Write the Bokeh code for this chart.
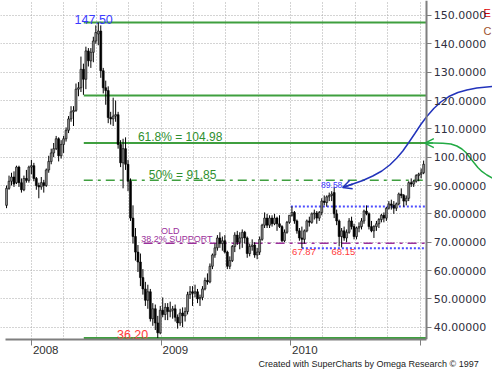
import pandas as pd
from bokeh.plotting import figure
from bokeh.models import (Range1d, LinearAxis, FixedTicker, Title, Arrow, OpenHead, Grid)
from bokeh.core.properties import value
from bokeh.embed import file_html
from bokeh.resources import INLINE

# ---------------- data (weekly bars, week starting Monday) ----------------
first_week = "2007-10-22"
open_ = [83.0, 89.0, 91.5, 93.0, 91.0, 96.5, 91.0, 88.5, 92.5, 91.8,
         96.5, 97.0, 92.5, 90.0, 89.5, 91.0, 90.0, 95.5, 98.5, 101.5,
         103.0, 106.5, 100.5, 104.5, 106.5, 109.5, 113.5, 116.0, 116.5, 124.0,
         124.5, 131.0, 127.5, 137.5, 134.0, 137.0, 141.0, 143.5, 144.5, 130.5,
         124.5, 123.5, 114.0, 113.5, 114.5, 115.0, 104.5, 98.0, 103.0, 97.5,
         91.5, 78.5, 72.0, 66.5, 63.0, 57.5, 53.5, 49.5, 52.5, 43.0,
         46.5, 41.5, 38.0, 46.0, 44.5, 47.0, 45.5, 46.0, 46.5, 43.5,
         41.5, 45.0, 44.0, 45.5, 51.5, 52.5, 52.0, 52.5, 50.0, 50.5,
         53.5, 56.5, 56.0, 61.5, 65.5, 68.0, 71.5, 69.5, 70.5, 66.5,
         61.5, 63.5, 68.5, 72.5, 70.0, 71.5, 73.5, 71.5, 66.0, 68.5,
         69.0, 65.5, 66.5, 71.0, 76.0, 78.5, 76.0, 78.5, 76.5, 78.5,
         76.5, 75.5, 70.5, 73.5, 77.0, 79.5, 80.5, 77.5, 74.0, 71.5,
         71.0, 74.0, 77.5, 77.0, 80.0, 80.3, 78.5, 80.5, 84.5, 84.0,
         86.0, 86.5, 87.5, 80.0, 77.5, 72.0, 74.0, 71.5, 73.5, 77.5,
         75.5, 72.0, 75.0, 75.5, 77.5, 81.0, 80.0, 75.5, 74.0, 75.5,
         76.5, 78.0, 79.5, 78.5, 82.0, 83.5, 83.0, 82.0, 83.5, 87.0,
         86.5, 84.5, 85.5, 91.0, 90.5, 91.5, 93.5, 94.0, 94.5]
high = [90.0, 93.5, 94.5, 95.0, 97.0, 97.0, 92.5, 93.5, 95.5, 97.0,
        99.0, 98.0, 93.0, 91.0, 93.0, 92.0, 96.0, 100.5, 103.0, 105.0,
        107.5, 107.0, 106.0, 107.5, 110.5, 114.5, 118.0, 118.0, 126.0, 126.5,
        135.5, 133.0, 139.0, 138.5, 138.5, 142.5, 146.5, 147.5, 146.5, 131.5,
        127.0, 125.0, 116.0, 121.0, 120.0, 116.0, 106.0, 106.5, 107.0, 99.0,
        92.5, 83.0, 75.0, 69.0, 66.0, 60.5, 56.0, 55.0, 53.5, 48.5,
        48.0, 44.0, 47.5, 50.5, 48.5, 48.5, 49.0, 47.5, 48.0, 44.5,
        46.5, 47.0, 47.0, 52.5, 54.5, 54.5, 55.0, 53.5, 51.5, 54.5,
        57.5, 59.0, 62.5, 66.0, 69.5, 72.5, 73.5, 72.0, 72.5, 67.0,
        65.0, 69.0, 73.5, 74.0, 73.5, 74.5, 74.0, 72.0, 69.5, 71.0,
        70.0, 68.0, 72.0, 76.5, 80.5, 80.0, 79.5, 79.5, 80.0, 79.0,
        79.5, 76.0, 74.5, 77.5, 79.5, 82.6, 81.0, 78.0, 75.0, 75.5,
        74.5, 78.0, 79.0, 80.5, 81.5, 81.0, 81.0, 85.5, 86.5, 86.5,
        87.5, 88.0, 89.58, 81.5, 78.0, 75.0, 75.5, 74.5, 78.5, 79.0,
        76.5, 75.5, 77.0, 78.5, 81.5, 83.0, 80.5, 77.5, 76.0, 77.5,
        78.5, 80.0, 80.5, 82.5, 84.5, 85.0, 84.5, 84.0, 87.5, 89.0,
        87.0, 86.5, 91.5, 92.5, 92.0, 94.0, 94.5, 96.0, 98.8]
low = [82.0, 88.5, 90.0, 89.5, 90.5, 89.5, 87.5, 88.0, 91.0, 91.0,
       94.0, 91.5, 88.5, 85.5, 88.5, 87.5, 89.5, 94.5, 97.5, 100.0,
       102.5, 98.5, 99.5, 101.5, 105.5, 108.5, 112.5, 111.0, 116.0, 121.5,
       123.0, 122.0, 124.0, 132.0, 131.5, 133.5, 140.0, 139.5, 128.0, 122.5,
       118.5, 112.0, 111.5, 111.0, 112.5, 103.0, 96.5, 89.0, 95.5, 88.0,
       77.5, 69.5, 63.5, 59.5, 54.5, 51.5, 47.5, 46.5, 42.0, 40.5,
       39.0, 36.2, 37.5, 43.5, 42.5, 42.5, 43.5, 43.0, 42.0, 39.5,
       40.5, 40.0, 42.0, 44.5, 50.0, 47.5, 50.5, 48.5, 47.5, 49.5,
       53.0, 55.0, 55.5, 60.5, 64.5, 67.0, 68.0, 67.0, 66.0, 60.5,
       60.5, 63.0, 66.5, 69.0, 67.5, 68.0, 69.5, 64.5, 65.0, 67.0,
       64.5, 64.0, 65.5, 70.5, 75.0, 75.0, 75.0, 75.5, 76.0, 74.0,
       75.0, 70.0, 70.0, 73.0, 76.5, 79.0, 76.5, 73.0, 70.5, 67.87,
       69.5, 73.5, 75.5, 76.5, 78.0, 76.5, 77.5, 79.5, 83.0, 82.5,
       84.5, 84.5, 78.5, 76.0, 68.5, 68.15, 70.5, 70.0, 73.0, 74.5,
       71.0, 71.0, 73.5, 74.5, 76.5, 79.5, 74.5, 73.5, 71.5, 74.0,
       75.0, 77.0, 77.0, 77.5, 81.5, 81.5, 80.0, 81.0, 83.0, 85.5,
       82.5, 83.0, 84.5, 89.5, 89.5, 91.0, 91.5, 92.5, 94.0]
close = [89.0, 91.5, 93.0, 90.5, 96.5, 91.0, 88.5, 92.5, 91.8, 96.5,
         97.0, 92.5, 90.0, 89.5, 91.0, 90.0, 95.5, 98.5, 101.5, 103.0,
         106.5, 100.5, 104.5, 106.5, 109.5, 113.5, 116.0, 116.5, 124.0, 124.5,
         131.0, 127.5, 137.5, 134.0, 137.0, 141.0, 144.0, 144.5, 130.5, 124.5,
         123.5, 114.0, 113.5, 114.5, 115.0, 104.5, 98.0, 103.0, 97.5, 91.5,
         78.5, 72.0, 66.5, 63.0, 57.5, 53.5, 49.5, 52.5, 43.0, 46.5,
         41.5, 38.0, 46.0, 44.5, 47.0, 45.5, 46.0, 46.5, 43.5, 41.5,
         45.0, 44.0, 45.5, 51.5, 52.5, 52.0, 52.5, 50.0, 50.5, 53.5,
         56.5, 56.0, 61.5, 65.5, 68.0, 71.5, 69.5, 70.5, 66.5, 61.5,
         63.5, 68.5, 72.5, 70.0, 71.5, 73.5, 71.5, 66.0, 68.5, 69.0,
         65.5, 66.5, 71.0, 76.0, 78.5, 76.0, 78.5, 76.5, 78.5, 76.5,
         75.5, 70.5, 73.5, 77.0, 79.5, 80.5, 77.5, 74.0, 71.5, 71.0,
         74.0, 77.5, 77.0, 80.0, 80.3, 78.5, 80.5, 84.5, 84.0, 86.0,
         86.5, 87.0, 80.0, 77.5, 72.0, 74.0, 71.5, 73.5, 77.5, 75.5,
         72.0, 75.0, 75.5, 77.5, 81.0, 80.0, 75.5, 74.0, 75.5, 76.5,
         78.0, 79.5, 78.5, 82.0, 83.5, 83.0, 82.0, 83.5, 87.0, 86.5,
         84.5, 85.5, 91.0, 90.5, 91.5, 93.5, 94.0, 94.5, 97.5]

year_ticks = [2008, 2009, 2010, 2011]
year_labels = ["2008", "2009", "2010"]
price_ticks = [40, 50, 60, 70, 80, 90, 100, 110, 120, 130, 140, 150]

# support / resistance levels
green_levels = [147.50, 121.8, 104.98, 36.20]
fib50_level = 91.85
fib_start = "2008-05-27"
blue_levels = [82.6, 67.87]
blue_starts = ["2010-01-01", "2010-02-01"]
purple_level = 69.65
purple_start = "2008-11-12"

# hand-drawn curved arrows (year, price)
blue_curve_x = [2010.400, 2010.478, 2010.555, 2010.632, 2010.702, 2010.763, 2010.818, 2010.864,
                2010.910, 2010.957, 2011.003, 2011.049, 2011.103, 2011.157, 2011.219, 2011.289,
                2011.358, 2011.435, 2011.559]
blue_curve_y = [89.30, 90.54, 91.77, 93.36, 95.12, 97.24, 99.71, 102.18, 105.18, 108.35,
                111.53, 114.36, 117.18, 119.47, 121.41, 122.82, 123.71, 124.41, 124.94]
green_curve_x = [2011.034, 2011.096, 2011.173, 2011.235, 2011.281, 2011.320, 2011.351,
                 2011.381, 2011.412, 2011.443, 2011.474, 2011.513, 2011.559]
green_curve_y = [104.97, 104.97, 104.90, 104.65, 103.95, 102.89, 101.65, 99.89, 98.12,
                 96.36, 94.95, 93.71, 92.48]

VIEW_START, VIEW_END = "2007-10-05", "2011-07-23"
AXIS_START, AXIS_AT = "2007-10-19", "2011-01-19"
Y_LOW, Y_HIGH = 35.66, 155.29

FONT = "Liberation Sans"
GREEN_LINE = "#3f9f3f"
GREEN_TEXT = "#2f8f2f"
BLUE_TEXT = "#3a3aff"
RED_TEXT = "#ff3b3b"
PURPLE = "#9b309b"
BLUE_DOT = "#4d4dff"
BLUE_CURVE = "#2233bb"
GREEN_CURVE = "#22aa44"
AXIS_GRAY = "#7f7f7f"
GRID_GRAY = "#a8a8a8"


def fy(d):
    d = pd.Timestamp(d)
    start = pd.Timestamp(year=d.year, month=1, day=1)
    end = pd.Timestamp(year=d.year + 1, month=1, day=1)
    return d.year + (d - start) / (end - start)


weeks = pd.date_range(first_week, periods=len(close), freq="7D")
xs = [fy(d) for d in weeks]
XS, XE = fy(VIEW_START), fy(VIEW_END)
AX0, AX1 = fy(AXIS_START), fy(AXIS_AT)
quarter_ticks = [fy(d) for d in pd.date_range("2008-01-01", "2011-01-01", freq="QS")]

p = figure(width=492, height=372, x_range=Range1d(XS, XE), y_range=Range1d(Y_LOW, Y_HIGH),
           x_axis_location="below", y_axis_location="right",
           toolbar_location=None, output_backend="svg",
           min_border_left=0, min_border_top=0, min_border_right=0, min_border_bottom=33,
           background_fill_color="white", border_fill_color="white", outline_line_color=None)

# bottom axis: line + year ticks (labels drawn by a second axis, right of the ticks)
xa = p.xaxis[0]
xa.ticker = FixedTicker(ticks=year_ticks)
xa.bounds = (AX0, AX1)
xa.major_label_overrides = {t: "" for t in year_ticks}
xa.major_label_text_font_size = "6px"
xa.major_label_standoff = 0
xa.major_tick_out = 6
xa.major_tick_in = 0
xa.minor_tick_line_color = None
xa.axis_line_color = AXIS_GRAY
xa.axis_line_width = 2
xa.major_tick_line_color = AXIS_GRAY

shift = 0.108
p.extra_x_ranges = {"years": Range1d(XS - shift, XE - shift)}
la = LinearAxis(x_range_name="years", ticker=FixedTicker(ticks=[int(y) for y in year_labels]),
                axis_line_color=None, major_tick_line_color=None, minor_tick_line_color=None,
                major_tick_out=0, major_tick_in=0, major_label_standoff=0,
                major_label_text_font=FONT, major_label_text_font_size="11.5px",
                major_label_text_color="#303030")
p.add_layout(la, "below")

# price axis, drawn at a fixed place so the annotation arrows can run past it
ya = p.yaxis[0]
ya.fixed_location = AX1
ya.ticker = FixedTicker(ticks=price_ticks)
ya.major_label_overrides = {t: (f"{t:.4f}" if t >= 100 else f"{t:.5f}") for t in price_ticks}
ya.major_tick_out = 5
ya.major_tick_in = 0
ya.minor_tick_line_color = None
ya.major_label_standoff = 2
ya.axis_line_color = AXIS_GRAY
ya.axis_line_width = 2
ya.major_tick_line_color = AXIS_GRAY
ya.major_label_text_font = "DejaVu Sans"
ya.major_label_text_font_size = "11px"
ya.major_label_text_color = "#303040"

p.xgrid.ticker = FixedTicker(ticks=quarter_ticks)
p.xgrid.grid_line_color = GRID_GRAY
p.xgrid.grid_line_dash = "1 2"
p.ygrid.ticker = FixedTicker(ticks=price_ticks)
p.ygrid.grid_line_color = GRID_GRAY
p.ygrid.grid_line_dash = "1 2"
if "cross_bounds" in Grid.properties():
    p.ygrid.cross_bounds = (XS, AX1)
else:
    p.ygrid.grid_line_color = None
    p.segment(x0=[XS] * len(price_ticks), y0=price_ticks, x1=[AX1] * len(price_ticks),
              y1=price_ticks, line_color=GRID_GRAY, line_dash="1 2", line_width=1)

title = Title(text="Created with SuperCharts by Omega Research \u00a9 1997", align="left",
              offset=258, standoff=0, text_font=FONT, text_font_size="9px",
              text_font_style="normal", text_color="#222222")
p.add_layout(title, "below")

# levels
p.segment(x0=[fy(fib_start)] * len(green_levels), y0=green_levels,
          x1=[AX1] * len(green_levels), y1=green_levels, line_color=GREEN_LINE, line_width=2)
p.segment(x0=[fy(fib_start)], y0=[fib50_level], x1=[AX1], y1=[fib50_level],
          line_color=GREEN_LINE, line_width=1.6, line_dash="9 5 3 5")
p.segment(x0=[fy(purple_start)], y0=[purple_level], x1=[AX1], y1=[purple_level],
          line_color=PURPLE, line_width=1.6, line_dash="9 5 3 5")
p.segment(x0=[fy(s) for s in blue_starts], y0=blue_levels, x1=[AX1] * len(blue_levels),
          y1=blue_levels, line_color=BLUE_DOT, line_width=2, line_dash="2 2")

# candles
w = 0.78 * 7 / 365.25
p.segment(x0=xs, y0=high, x1=xs, y1=low, line_color="black", line_width=1)
up = [i for i in range(len(close)) if close[i] >= open_[i]]
dn = [i for i in range(len(close)) if close[i] < open_[i]]
p.vbar(x=[xs[i] for i in up], width=w, top=[close[i] for i in up], bottom=[open_[i] for i in up],
       fill_color="#8c8c8c", line_color="black", line_width=0.6)
p.vbar(x=[xs[i] for i in dn], width=w, top=[open_[i] for i in dn], bottom=[close[i] for i in dn],
       fill_color="black", line_color="black", line_width=0.6)


# texts
def txt(x, y, s, color, size, baseline="bottom", yoff=0, align="center"):
    p.text(x=[x], y=[y], text=[s], text_color=color, text_font=value(FONT),
           text_font_size=size, text_align=align, text_baseline=baseline, y_offset=yoff)


txt(fy("2008-06-24"), 147.5, "147.50", BLUE_TEXT, "12.5px", yoff=1)
txt(fy("2009-02-23"), 104.98, "61.8% = 104.98", GREEN_TEXT, "12px", yoff=1)
txt(fy("2009-03-02"), fib50_level, "50% = 91.85", GREEN_TEXT, "12px", yoff=2)
txt(fy("2008-10-12"), 36.20, "36.20", RED_TEXT, "12.5px", yoff=1)
txt(fy("2009-01-26"), 73.8, "OLD", PURPLE, "9px", baseline="middle")
txt(fy("2009-02-14"), purple_level, "38.2% SUPPORT", PURPLE, "9px", yoff=1)
txt(fy("2010-04-26"), 89.58, "89.58", BLUE_TEXT, "8.5px", yoff=1)
txt(fy("2010-02-07"), 67.87, "67.87", RED_TEXT, "9.5px", baseline="top", yoff=1)
txt(fy("2010-05-29"), 67.87, "68.15", RED_TEXT, "9.5px", baseline="top", yoff=1)
txt(2011.487, 151.0, "E", "#dd0000", "11px", baseline="middle", align="left")
txt(2011.487, 144.4, "C", "#a0522d", "11px", baseline="middle", align="left")

# hand-drawn curved arrows
for cx, cy, color in ((blue_curve_x, blue_curve_y, BLUE_CURVE),
                      (green_curve_x, green_curve_y, GREEN_CURVE)):
    p.line(cx, cy, line_color=color, line_width=1.5)
    p.add_layout(Arrow(end=OpenHead(size=9, line_color=color, line_width=1.5),
                       x_start=cx[1], y_start=cy[1], x_end=cx[0], y_end=cy[0],
                       line_color=color, line_width=1.5))

open("out.html", "w").write(file_html(p, INLINE))
